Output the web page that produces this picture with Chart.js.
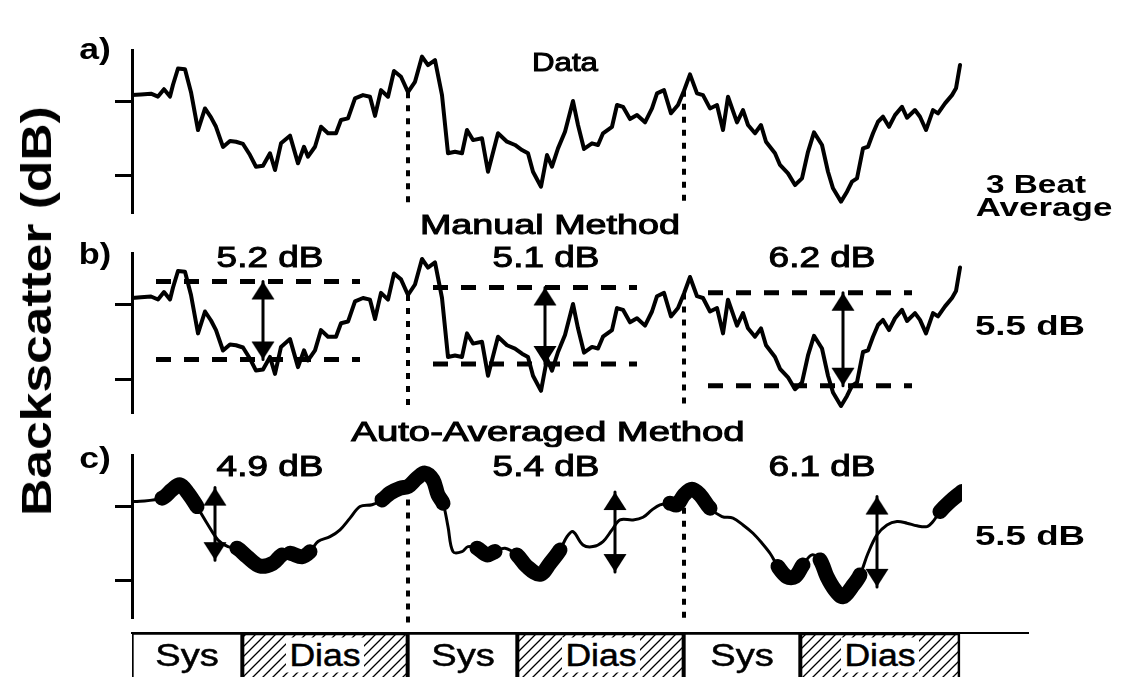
<!DOCTYPE html>
<html>
<head>
<meta charset="utf-8">
<script src="https://cdn.jsdelivr.net/npm/chart.js@4.4.1/dist/chart.umd.min.js"></script>
<style>
  html, body { margin: 0; padding: 0; background: #fff; overflow: hidden; width: 1123px; height: 677px; }
  #fig { position: relative; width: 1123px; height: 677px; overflow: hidden; }
  #fig canvas { position: absolute; left: 0; top: 0; }
  .lbl { position: absolute; white-space: nowrap; font-family: "Liberation Sans", Arial, Helvetica, sans-serif;
         color: #000; line-height: 1; transform-origin: center center; }
</style>
</head>
<body>
<div id="fig">
  <canvas id="panelA" width="1123" height="677"></canvas>
  <canvas id="panelB" width="1123" height="677"></canvas>
  <canvas id="panelC" width="1123" height="677"></canvas>
  <canvas id="band" width="1123" height="700"></canvas>
</div>
<script>
// ---- time base (s) and beat boundaries ----
const beatBounds = [0, 2.76, 5.52, 8.28];

// ---- raw backscatter trace (dB) ----
const rawT = [0.00,0.09,0.19,0.26,0.32,0.38,0.41,0.46,0.53,0.59,
  0.66,0.73,0.79,0.84,0.91,0.98,1.04,1.11,1.18,1.24,
  1.31,1.38,1.43,1.49,1.58,1.66,1.72,1.76,1.83,1.89,
  1.96,2.04,2.09,2.16,2.23,2.31,2.38,2.43,2.49,2.56,
  2.62,2.69,2.76,2.83,2.90,2.96,3.03,3.10,3.16,3.23,
  3.30,3.35,3.41,3.50,3.56,3.66,3.75,3.83,3.90,3.96,
  4.01,4.09,4.15,4.20,4.26,4.33,4.41,4.46,4.52,4.60,
  4.66,4.71,4.80,4.85,4.91,4.98,5.05,5.13,5.20,5.25,
  5.32,5.39,5.46,5.52,5.58,5.65,5.71,5.78,5.85,5.91,
  5.96,6.05,6.11,6.16,6.23,6.29,6.34,6.43,6.48,6.56,
  6.63,6.70,6.76,6.82,6.90,6.96,7.01,7.09,7.15,7.20,
  7.25,7.31,7.36,7.41,7.46,7.51,7.57,7.63,7.70,7.75,
  7.83,7.88,7.94,8.01,8.06,8.13,8.20,8.24,8.28];
const rawDb = [5.4,5.45,5.5,5.3,5.8,5.3,6.1,7.2,7.15,5.6,
  3.04,4.5,3.9,3.26,1.9,2.3,2.25,2.1,1.35,0.56,
  0.63,1.47,0.34,2.14,2.66,0.79,1.91,1.24,1.91,3.26,
  2.82,2.82,3.72,3.83,5.18,5.4,5.29,4.0,5.74,5.29,
  7.03,6.64,5.6,6.3,8.0,7.43,7.77,5.4,1.47,1.57,
  1.47,3.04,2.36,2.48,0.22,2.82,2.25,2.03,1.69,1.47,
  0.22,-0.79,1.35,0.56,1.8,2.93,5.0,3.38,1.76,2.14,
  2.03,2.82,3.26,4.73,4.61,3.78,4.05,3.56,4.5,5.52,
  5.74,4.17,4.73,5.7,6.8,5.52,5.4,4.5,4.73,3.04,
  5.29,3.56,4.39,3.38,2.82,3.38,2.25,1.47,0.68,0.11,
  -0.68,-0.23,1.57,2.88,2.03,0.22,-0.9,-1.8,-1.13,-0.45,
  -0.23,1.8,1.91,2.82,3.6,3.94,3.26,4.05,4.61,3.87,
  4.39,3.94,3.04,4.39,4.17,4.84,5.4,5.86,7.43];

// ---- smoothed trace (dB) ----
const smoothT = [0.00,0.05,0.30,0.40,0.48,0.56,0.65,0.75,0.86,0.96,
  1.05,1.15,1.28,1.41,1.50,1.58,1.70,1.78,1.86,1.98,
  2.08,2.18,2.28,2.40,2.50,2.58,2.68,2.76,2.85,2.93,
  3.01,3.06,3.11,3.16,3.21,3.30,3.36,3.45,3.55,3.63,
  3.73,3.85,3.95,4.08,4.18,4.28,4.35,4.41,4.51,4.61,
  4.71,4.80,4.88,5.01,5.11,5.20,5.28,5.38,5.45,5.52,
  5.60,5.68,5.78,5.90,6.01,6.11,6.21,6.30,6.38,6.46,
  6.55,6.63,6.71,6.80,6.88,6.95,7.03,7.11,7.20,7.28,
  7.36,7.45,7.55,7.65,7.75,7.85,7.95,8.01,8.08,8.18,
  8.30];
const smoothDb = [5.36,5.36,5.59,6.15,6.49,5.93,5.02,3.9,2.77,2.32,
  2.21,1.64,1.01,1.2,1.76,1.87,1.64,1.98,2.66,2.99,
  3.45,4.24,5.02,5.14,5.47,5.93,6.26,6.37,6.94,7.28,
  6.82,5.81,5.25,3.67,1.98,1.98,2.32,2.21,1.76,1.98,
  2.21,1.76,0.97,0.45,1.2,2.09,2.99,3.33,2.43,2.32,
  2.66,3.45,4.12,4.12,4.3,4.8,5.14,5.25,5.14,5.81,
  6.19,5.81,4.91,4.35,4.24,3.78,3.22,2.55,1.87,0.97,
  0.29,0.29,1.08,1.76,1.42,0.29,-0.61,-1.06,-0.39,0.41,
  1.87,3.11,3.78,4.01,3.9,3.72,3.67,4.01,4.68,5.36,
  6.03];

// windows picked as systolic peaks / diastolic troughs by the auto-averaging
const pickFrom = [0.31, 1.06, 1.61, 2.50, 3.46, 3.83, 5.38, 6.50, 6.88, 8.06];
const pickTo   = [0.65, 1.53, 1.80, 3.11, 3.63, 4.28, 5.83, 6.71, 7.30, 8.30];

// ---- per-beat ranges ----
const manualTop    = [6.5, 6.1, 5.75];
const manualRange  = [5.2, 5.1, 6.2];
const manualFrom   = [0.24, 3.01, 5.76];
const manualTo     = [2.28, 5.05, 7.80];
const manualArrowT = [1.31, 4.13, 7.11];

const autoTop    = [6.3, 6.0, 5.7];
const autoRange  = [4.9, 5.4, 6.1];
const autoArrowT = [0.83, 4.83, 7.45];

// ---- cardiac phases ----
const phaseNames = ['Sys', 'Dias', 'Sys', 'Dias', 'Sys', 'Dias'];
const phaseStart = [0, 1.10, 2.76, 3.85, 5.52, 6.68];
const phaseEnd   = [1.10, 2.76, 3.85, 5.52, 6.68, 8.28];

const yTickValues = [0, 5];

// ================= drawing =================
const INK = '#000';
const W = 1123, H = 677;
const pts = (xs, ys) => xs.map((x, i) => ({ x, y: ys[i] }));
const mean = a => a.reduce((s, v) => s + v, 0) / a.length;
const valueAt = (xs, ys, t) => ys[xs.indexOf(t)];

function arrowHeadImage() {
  const c = document.createElement('canvas');
  c.width = 24; c.height = 38;
  const g = c.getContext('2d');
  g.fillStyle = INK;
  g.beginPath();
  g.moveTo(12, 19); g.lineTo(23.5, 37); g.lineTo(0.5, 37); g.closePath();
  g.fill();
  return c;
}
const HEAD = arrowHeadImage();

function arrowSet(t, top, range) {
  return { data: [{ x: t, y: top }, { x: t, y: top - range }], borderColor: INK, borderWidth: 3,
           pointStyle: HEAD, pointRotation: [0, 180], pointRadius: 10, pointBorderWidth: 0,
           clip: false, tension: 0 };
}
function dottedSet(t, top, bottom) {
  return { data: [{ x: t, y: top }, { x: t, y: bottom }], borderColor: INK, borderWidth: 4,
           borderDash: [6, 7], borderCapStyle: 'butt', pointRadius: 0, clip: false };
}
function dashedSet(x0, x1, y) {
  return { data: [{ x: x0, y }, { x: x1, y }], borderColor: INK, borderWidth: 5,
           borderDash: [15, 13], borderCapStyle: 'butt', pointRadius: 0, clip: false };
}

function panel(id, area, datasets) {
  const TICK = 17;
  return new Chart(document.getElementById(id), {
    type: 'line',
    data: { datasets },
    options: {
      responsive: false, animation: false, devicePixelRatio: 1, events: [],
      layout: { autoPadding: false,
                padding: { left: 132 - TICK, right: W - 962, top: area.top, bottom: H - area.bottom } },
      plugins: { legend: { display: false }, tooltip: { enabled: false }, title: { display: false } },
      elements: { line: { borderJoinStyle: 'round', borderCapStyle: 'round' } },
      scales: {
        x: { type: 'linear', min: 0, max: 8.3, display: false },
        y: { type: 'linear', min: area.min, max: area.max,
             afterBuildTicks: ax => { ax.ticks = yTickValues.map(v => ({ value: v })); },
             ticks: { display: false },
             grid: { display: true, drawOnChartArea: false, drawTicks: true, tickLength: TICK, lineWidth: 3, color: INK },
             border: { display: true, width: 3, color: INK } }
      }
    }
  });
}

const rawLine = () => ({ data: pts(rawT, rawDb), borderColor: INK, borderWidth: 4, pointRadius: 0, tension: 0 });
const dotA = (bottom) => [1, 2].map(i => dottedSet(beatBounds[i], valueAt(rawT, rawDb, beatBounds[i]), bottom));

// a) raw data
const chartA = panel('panelA', { top: 50, bottom: 212, min: -2.5, max: 8.45 },
  [rawLine(), ...dotA(-2.1)]);

// b) manual method
const chartB = panel('panelB', { top: 253, bottom: 412, min: -2.2, max: 8.4 }, [
  ...manualArrowT.map((t, i) => arrowSet(t, manualTop[i], manualRange[i])),
  rawLine(),
  ...manualFrom.map((x0, i) => dashedSet(x0, manualTo[i], manualTop[i])),
  ...manualFrom.map((x0, i) => dashedSet(x0, manualTo[i], manualTop[i] - manualRange[i])),
  ...dotA(-2.1)
]);

// c) auto-averaged method
const picked = x => pickFrom.some((a, i) => x >= a && x <= pickTo[i]);
const chartC = panel('panelC', { top: 455, bottom: 617, min: -2.43, max: 8.5 }, [
  ...autoArrowT.map((t, i) => arrowSet(t, autoTop[i], autoRange[i])),
  { data: pts(smoothT, smoothDb), borderColor: INK, borderWidth: 3, pointRadius: 0, tension: 0.35,
    borderCapStyle: 'round',
    segment: { borderWidth: ctx => picked((ctx.p0.parsed.x + ctx.p1.parsed.x) / 2) ? 15 : 3 } },
  ...[1, 2].map(i => dottedSet(beatBounds[i], valueAt(smoothT, smoothDb, beatBounds[i]), -2.8))
]);

// cardiac phase band
function hatchPattern() {
  const c = document.createElement('canvas');
  c.width = 10; c.height = 10;
  const g = c.getContext('2d');
  g.strokeStyle = INK; g.lineWidth = 1.3;
  g.beginPath();
  g.moveTo(0, 10); g.lineTo(10, 0);
  g.moveTo(-5, 5); g.lineTo(5, -5);
  g.moveTo(5, 15); g.lineTo(15, 5);
  g.stroke();
  return g.createPattern(c, 'repeat');
}
const HATCH = hatchPattern();
const bandChart = new Chart(document.getElementById('band'), {
  type: 'bar',
  data: {
    labels: ['cycle'],
    datasets: phaseNames.map((n, i) => ({
      label: n, data: [[phaseStart[i], phaseEnd[i]]],
      backgroundColor: n === 'Dias' ? HATCH : '#fff', borderColor: INK, borderWidth: 2,
      borderSkipped: false, grouped: false, barPercentage: 1, categoryPercentage: 1
    }))
  },
  options: {
    indexAxis: 'y', responsive: false, animation: false, devicePixelRatio: 1, events: [],
    layout: { autoPadding: false, padding: { left: 132, right: W - 1028, top: 633, bottom: 10 } },
    plugins: { legend: { display: false }, tooltip: { enabled: false } },
    scales: {
      x: { type: 'linear', position: 'top', min: 0, max: 8.96,
           ticks: { display: false }, grid: { display: false, drawTicks: false },
           border: { display: true, width: 2, color: INK } },
      y: { display: false }
    }
  }
});

// ================= text =================
const fig = document.getElementById('fig');
function addText(str, cx, cy, o) {
  const el = document.createElement('div');
  el.className = 'lbl';
  el.textContent = str;
  el.style.fontSize = o.size + 'px';
  el.style.fontWeight = o.bold ? 'bold' : 'normal';
  if (o.stroke) el.style.webkitTextStroke = o.stroke + 'px #000';
  if (o.bg) { el.style.background = o.bg; el.style.padding = '2px 3px'; }
  fig.appendChild(el);
  const k = o.width ? o.width / el.offsetWidth : 1;
  el.style.left = cx + 'px';
  el.style.top = cy + 'px';
  el.style.transform = 'translate(-50%,-50%)' + (o.rotate ? ' rotate(' + o.rotate + 'deg)' : '') + ' scaleX(' + k + ')';
}
const fmt = v => v.toFixed(1) + ' dB';

addText('Backscatter (dB)', 37, 311, { size: 42, bold: true, width: 410, rotate: -90 });
addText('a)', 95, 49, { size: 30, bold: true, width: 32 });
addText('b)', 95, 254, { size: 30, bold: true, width: 32 });
addText('c)', 95, 458, { size: 30, bold: true, width: 32 });

addText('Data', 565, 62, { size: 26, width: 66, stroke: 1 });
addText('Manual Method', 550, 225, { size: 27, width: 260, stroke: 1 });
addText('Auto-Averaged Method', 548, 432, { size: 27, width: 393, stroke: 1 });

addText('3 Beat', 1036, 184, { size: 25, bold: true, width: 100 });
addText('Average', 1044, 207, { size: 25, bold: true, width: 137 });
addText(fmt(mean(manualRange)), 1030, 326, { size: 27, bold: true, width: 110 });
addText(fmt(mean(autoRange)), 1030, 536, { size: 27, bold: true, width: 110 });

const bx = chartB.scales.x;
for (let i = 0; i < 3; i++) {
  const c = bx.getPixelForValue((beatBounds[i] + beatBounds[i + 1]) / 2);
  addText(fmt(manualRange[i]), c, 257, { size: 29, width: 107, stroke: 1 });
  addText(fmt(autoRange[i]), c, 466, { size: 29, width: 107, stroke: 1 });
}

const sx = bandChart.scales.x;
phaseNames.forEach((n, i) => {
  const c = sx.getPixelForValue((phaseStart[i] + phaseEnd[i]) / 2);
  addText(n, c, 655, n === 'Dias'
    ? { size: 31, width: 78, bg: '#fff', stroke: 0.5 }
    : { size: 31, width: 64, stroke: 0.5 });
});
</script>
</body>
</html>
